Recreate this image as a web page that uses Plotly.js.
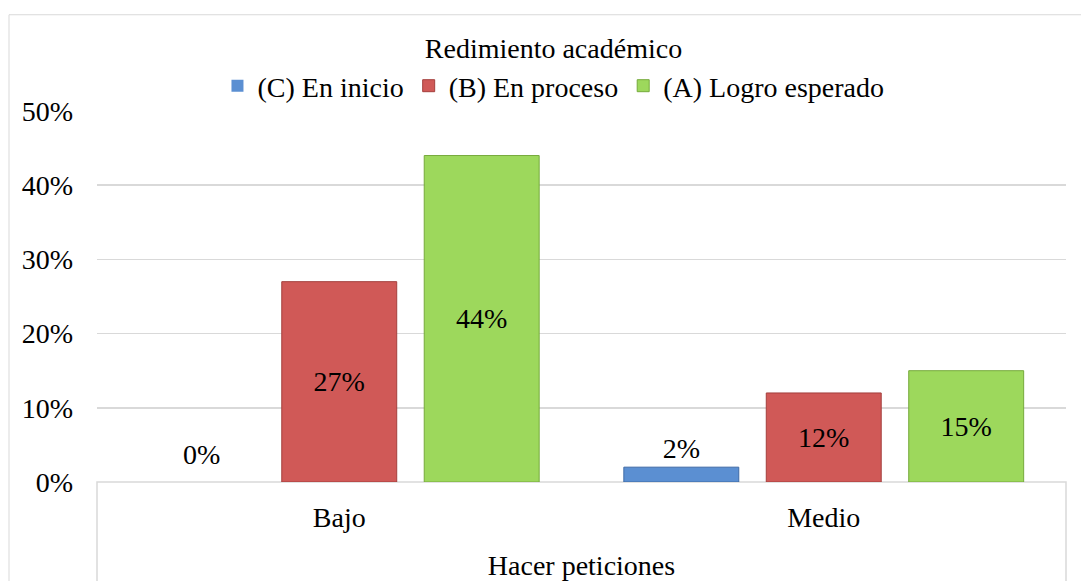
<!DOCTYPE html>
<html>
<head>
<meta charset="utf-8">
<script src="https://cdn.plot.ly/plotly-3.0.1.min.js"></script>
<style>
  html, body { margin: 0; padding: 0; background: #ffffff; }
  #chart { width: 1081px; height: 581px; }
</style>
</head>
<body>
<div id="chart"></div>
<script>
// Data
const categories = ['Bajo', 'Medio'];
const seriesNames = ['(C) En inicio', '(B) En proceso', '(A) Logro esperado'];
const enInicio = [0.00, 0.02];
const enProceso = [0.27, 0.12];
const logroEsperado = [0.44, 0.15];
const chartTitle = 'Redimiento académico';
const xAxisTitle = 'Hacer peticiones';

const fillColors = ['#5B8FD2', '#D05957', '#9DD85C'];
const lineColors = ['#3E6AA6', '#A43F3D', '#76AA3C'];
const FONT = 'serif';

const seriesValues = [enInicio, enProceso, logroEsperado];
const pct = v => Math.round(v * 100) + '%';

const traces = seriesValues.map((vals, i) => ({
  type: 'bar',
  name: seriesNames[i],
  x: categories,
  y: vals,
  text: vals.map(v => v > 0 ? pct(v) : ''),
  textposition: 'auto',
  insidetextanchor: 'middle',
  constraintext: 'none',
  cliponaxis: false,
  textfont: { family: FONT, size: 28, color: '#000000' },
  insidetextfont: { family: FONT, size: 28, color: '#000000' },
  outsidetextfont: { family: FONT, size: 28, color: '#000000' },
  marker: { color: fillColors[i], line: { color: lineColors[i], width: vals.map(v => v > 0 ? 1 : 0) } },
  hoverinfo: 'skip'
}));

// labels for zero-height bars (Plotly draws no text on them), anchored to the data point
const zeroLabels = [];
seriesValues.forEach((vals, i) => {
  vals.forEach((v, j) => {
    if (v === 0) {
      zeroLabels.push({
        x: categories[j], y: v, xref: 'x', yref: 'y',
        text: pct(v), showarrow: false,
        xshift: (i - 1) * 142.5 + 5, yshift: 28, yanchor: 'middle',
        font: { family: FONT, size: 28, color: '#000000' }
      });
    }
  });
});

const plotLayout = {
  width: 1081,
  height: 581,
  paper_bgcolor: '#ffffff',
  plot_bgcolor: '#ffffff',
  margin: { l: 97, r: 15, t: 108, b: 99, pad: 0 },
  font: { family: FONT, size: 28, color: '#000000' },
  title: {
    text: chartTitle,
    font: { family: FONT, size: 28, color: '#000000' },
    x: 0.512, xref: 'container', xanchor: 'center',
    y: 1 - 48 / 581, yref: 'container', yanchor: 'middle'
  },
  showlegend: true,
  legend: {
    orientation: 'h',
    x: 0.512, xref: 'container', xanchor: 'center',
    y: 1 - 86 / 581, yref: 'container', yanchor: 'middle',
    font: { family: FONT, size: 28, color: '#000000' },
    bgcolor: 'rgba(0,0,0,0)',
    traceorder: 'normal'
  },
  annotations: zeroLabels,
  barmode: 'group',
  bargap: 0.118,
  bargroupgap: 0.193,
  xaxis: {
    type: 'category',
    showgrid: false,
    showline: false,
    zeroline: false,
    ticks: '',
    ticklabelstandoff: 16,
    tickfont: { family: FONT, size: 28, color: '#000000' },
    title: { text: xAxisTitle, font: { family: FONT, size: 28, color: '#000000' }, standoff: 26 },
    automargin: false,
    fixedrange: true
  },
  yaxis: {
    range: [0, 0.5],
    dtick: 0.1,
    tickformat: '.0%',
    showgrid: true,
    gridcolor: '#d9d9d9',
    gridwidth: 1.5,
    zeroline: false,
    showline: false,
    ticks: '',
    ticklabelstandoff: 23,
    tickfont: { family: FONT, size: 28, color: '#000000' },
    automargin: false,
    fixedrange: true
  },
  shapes: [
    // outer chart frame (cropped at right and bottom in the reference)
    { type: 'rect', xref: 'paper', yref: 'paper', x0: -0.0908, x1: 1.1, y0: -0.5, y1: 1.2594,
      line: { color: '#d9d9d9', width: 1 }, fillcolor: 'rgba(0,0,0,0)', layer: 'below' },
    // category-axis box below the plot
    { type: 'rect', xref: 'paper', yref: 'paper', x0: 0, x1: 1, y0: -0.5, y1: 0,
      line: { color: '#d9d9d9', width: 1.5 }, fillcolor: 'rgba(0,0,0,0)', layer: 'below' }
  ],
  hovermode: false
};

Plotly.newPlot('chart', traces, plotLayout, { displayModeBar: false, staticPlot: true });
</script>
</body>
</html>
